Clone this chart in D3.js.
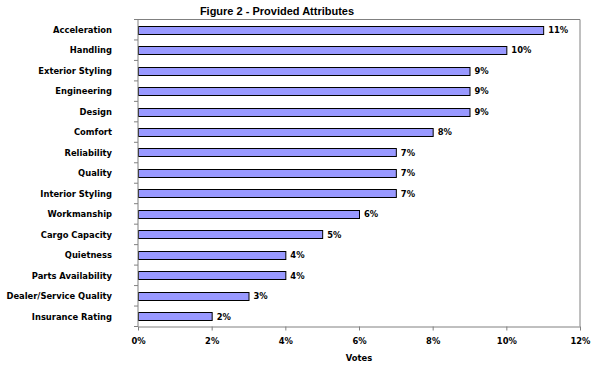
<!DOCTYPE html>
<html><head><meta charset="utf-8">
<script src="https://cdn.jsdelivr.net/npm/d3@7"></script>
<style>body{margin:0;background:#fff}</style>
</head><body>
<svg id="c" width="600" height="367"></svg>
<script>
const categories = ["Acceleration","Handling","Exterior Styling","Engineering","Design","Comfort","Reliability","Quality","Interior Styling","Workmanship","Cargo Capacity","Quietness","Parts Availability","Dealer/Service Quality","Insurance Rating"];
const values = [11,10,9,9,9,8,7,7,7,6,5,4,4,3,2];
const xTicks = [0,2,4,6,8,10,12];
const title = "Figure 2 - Provided Attributes";
const xTitle = "Votes";

const svg = d3.select("#c");
const m = {l:138, r:580, t:19.5, b:326.5};
const font = "'DejaVu Sans Condensed','Liberation Sans',sans-serif";
const fs = "9.3px";
const x = d3.scaleLinear().domain([0,12]).range([m.l, m.r]);
const y = d3.scaleBand().domain(categories).range([m.t, m.b]).paddingInner(0.6).paddingOuter(0.3);
const yEdge = d3.scalePoint().domain(d3.range(categories.length+1)).range([m.t, m.b]);

// frame
svg.append("path").attr("d", `M${m.l},${m.t}H${m.r}V${m.b}`).attr("fill","none").attr("stroke","#808080");

// bars
svg.selectAll("rect.bar").data(categories).join("rect")
  .attr("x", x(0)+0.5).attr("y", d=>Math.round(y(d))+0.5)
  .attr("width", (d,i)=>x(values[i])-x(0)).attr("height", Math.round(y.bandwidth()))
  .attr("fill","#9999FF").attr("stroke","#000").attr("stroke-width",1);

// value labels
svg.selectAll("text.val").data(categories).join("text")
  .attr("x",(d,i)=>x(values[i])+5).attr("y", d=>y(d)+y.bandwidth()/2)
  .attr("dy","0.35em").text((d,i)=>values[i]+"%")
  .style("font-family",font).style("font-weight","bold").style("font-size",fs).attr("fill","#000");

// y axis
const ya = svg.append("g").attr("transform",`translate(${m.l},0)`);
ya.append("line").attr("y1",m.t).attr("y2",m.b).attr("stroke","#808080");
ya.selectAll("line.t").data(d3.range(categories.length+1)).join("line")
  .attr("x1",-4).attr("x2",0).attr("y1",d=>yEdge(d)).attr("y2",d=>yEdge(d)).attr("stroke","#808080");
ya.selectAll("text").data(categories).join("text")
  .attr("x",-26).attr("y",d=>y(d)+y.bandwidth()/2).attr("dy","0.35em")
  .attr("text-anchor","end").text(d=>d)
  .style("font-family",font).style("font-weight","bold").style("font-size",fs);

// x axis
const xa = svg.append("g").attr("transform",`translate(0,${m.b})`)
  .call(d3.axisBottom(x).tickValues(xTicks).tickSize(4).tickSizeOuter(0).tickPadding(7).tickFormat(d=>d+"%"));
xa.select(".domain").attr("stroke","#808080");
xa.selectAll(".tick line").attr("stroke","#808080");
xa.selectAll("text").style("font-family",font).style("font-weight","bold").style("font-size",fs).attr("fill","#000");

svg.append("text").attr("x",(m.l+m.r)/2).attr("y",361).attr("text-anchor","middle").text(xTitle)
  .style("font-family",font).style("font-weight","bold").style("font-size",fs);
svg.append("text").attr("x",277).attr("y",14.5).attr("text-anchor","middle").text(title)
  .style("font-family","'Liberation Sans',Arial,sans-serif").style("font-weight","bold").style("font-size","11px");
</script>
</body></html>
